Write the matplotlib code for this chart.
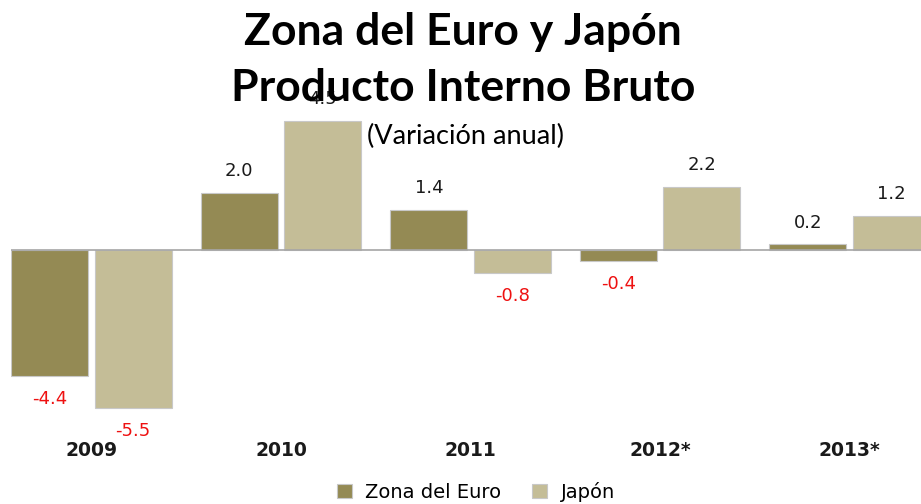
import matplotlib.pyplot as plt
import numpy as np

years = ["2009", "2010", "2011", "2012*", "2013*"]
euro = [-4.4, 2.0, 1.4, -0.4, 0.2]
japon = [-5.5, 4.5, -0.8, 2.2, 1.2]
series_names = ["Zona del Euro", "Japón"]

c_euro = "#948A54"
c_jap = "#C4BD97"

fig = plt.figure(figsize=(9.21, 5.04), dpi=100)
W, H = 921, 504
# axes placed in pixels: x 11..921, y 110..440
ax = fig.add_axes([11 / W, (H - 440) / H, (921 - 11) / W, (440 - 110) / H])

x = np.arange(len(years))
w = 0.405
b1 = ax.bar(x - 0.22, euro, w, color=c_euro, edgecolor="#C8C8C8", linewidth=0.8,
            label=series_names[0])
b2 = ax.bar(x + 0.22, japon, w, color=c_jap, edgecolor="#C8C8C8", linewidth=0.8,
            label=series_names[1])

ax.set_xlim(-0.425, 4.377)
ax.set_ylim(-(440 - 250) / 28.7, (250 - 110) / 28.7)
ax.axhline(0, color="#A6A6A6", linewidth=1.2, zorder=3)

for bars, vals in ((b1, euro), (b2, japon)):
    for r, v in zip(bars, vals):
        off = 15.5 if v >= 0 else -16.5
        ax.annotate(f"{v:.1f}", (r.get_x() + r.get_width() / 2, v),
                    xytext=(0, off), textcoords="offset points",
                    ha="center", va="center", fontsize=13,
                    color="#1a1a1a" if v >= 0 else "#EE1111", zorder=2,
                    annotation_clip=False)

for s in ax.spines.values():
    s.set_visible(False)
ax.set_yticks([])
ax.set_xticks([])
for i, yr in enumerate(years):
    ax.text(i, -(451 - 250) / 28.7, yr, ha="center", va="center",
            fontsize=13.5, fontweight="bold", color="#1a1a1a", clip_on=False)

# title lines drawn on top of the 4.5 label, as in the original slide
fig.text(463 / W, 1 - 32 / H, "Zona del Euro y Japón", ha="center", va="center",
         fontsize=32, fontweight="bold", family="Lato", zorder=10)
fig.text(463 / W, 1 - 88 / H, "Producto Interno Bruto", ha="center", va="center",
         fontsize=32, fontweight="bold", family="Lato", zorder=10)
fig.text(465 / W, 1 - 136 / H, "(Variación anual)", ha="center", va="center",
         fontsize=19.5, family="Lato", zorder=10,
         bbox=dict(facecolor="white", edgecolor="none", pad=0.5))

fig.legend(loc="center", bbox_to_anchor=(476 / W, 1 - 492 / H), ncol=2,
           frameon=False, fontsize=14, handlelength=0.75, handleheight=0.75,
           columnspacing=1.6, handletextpad=0.7)

fig.savefig("out.png", dpi=100)
